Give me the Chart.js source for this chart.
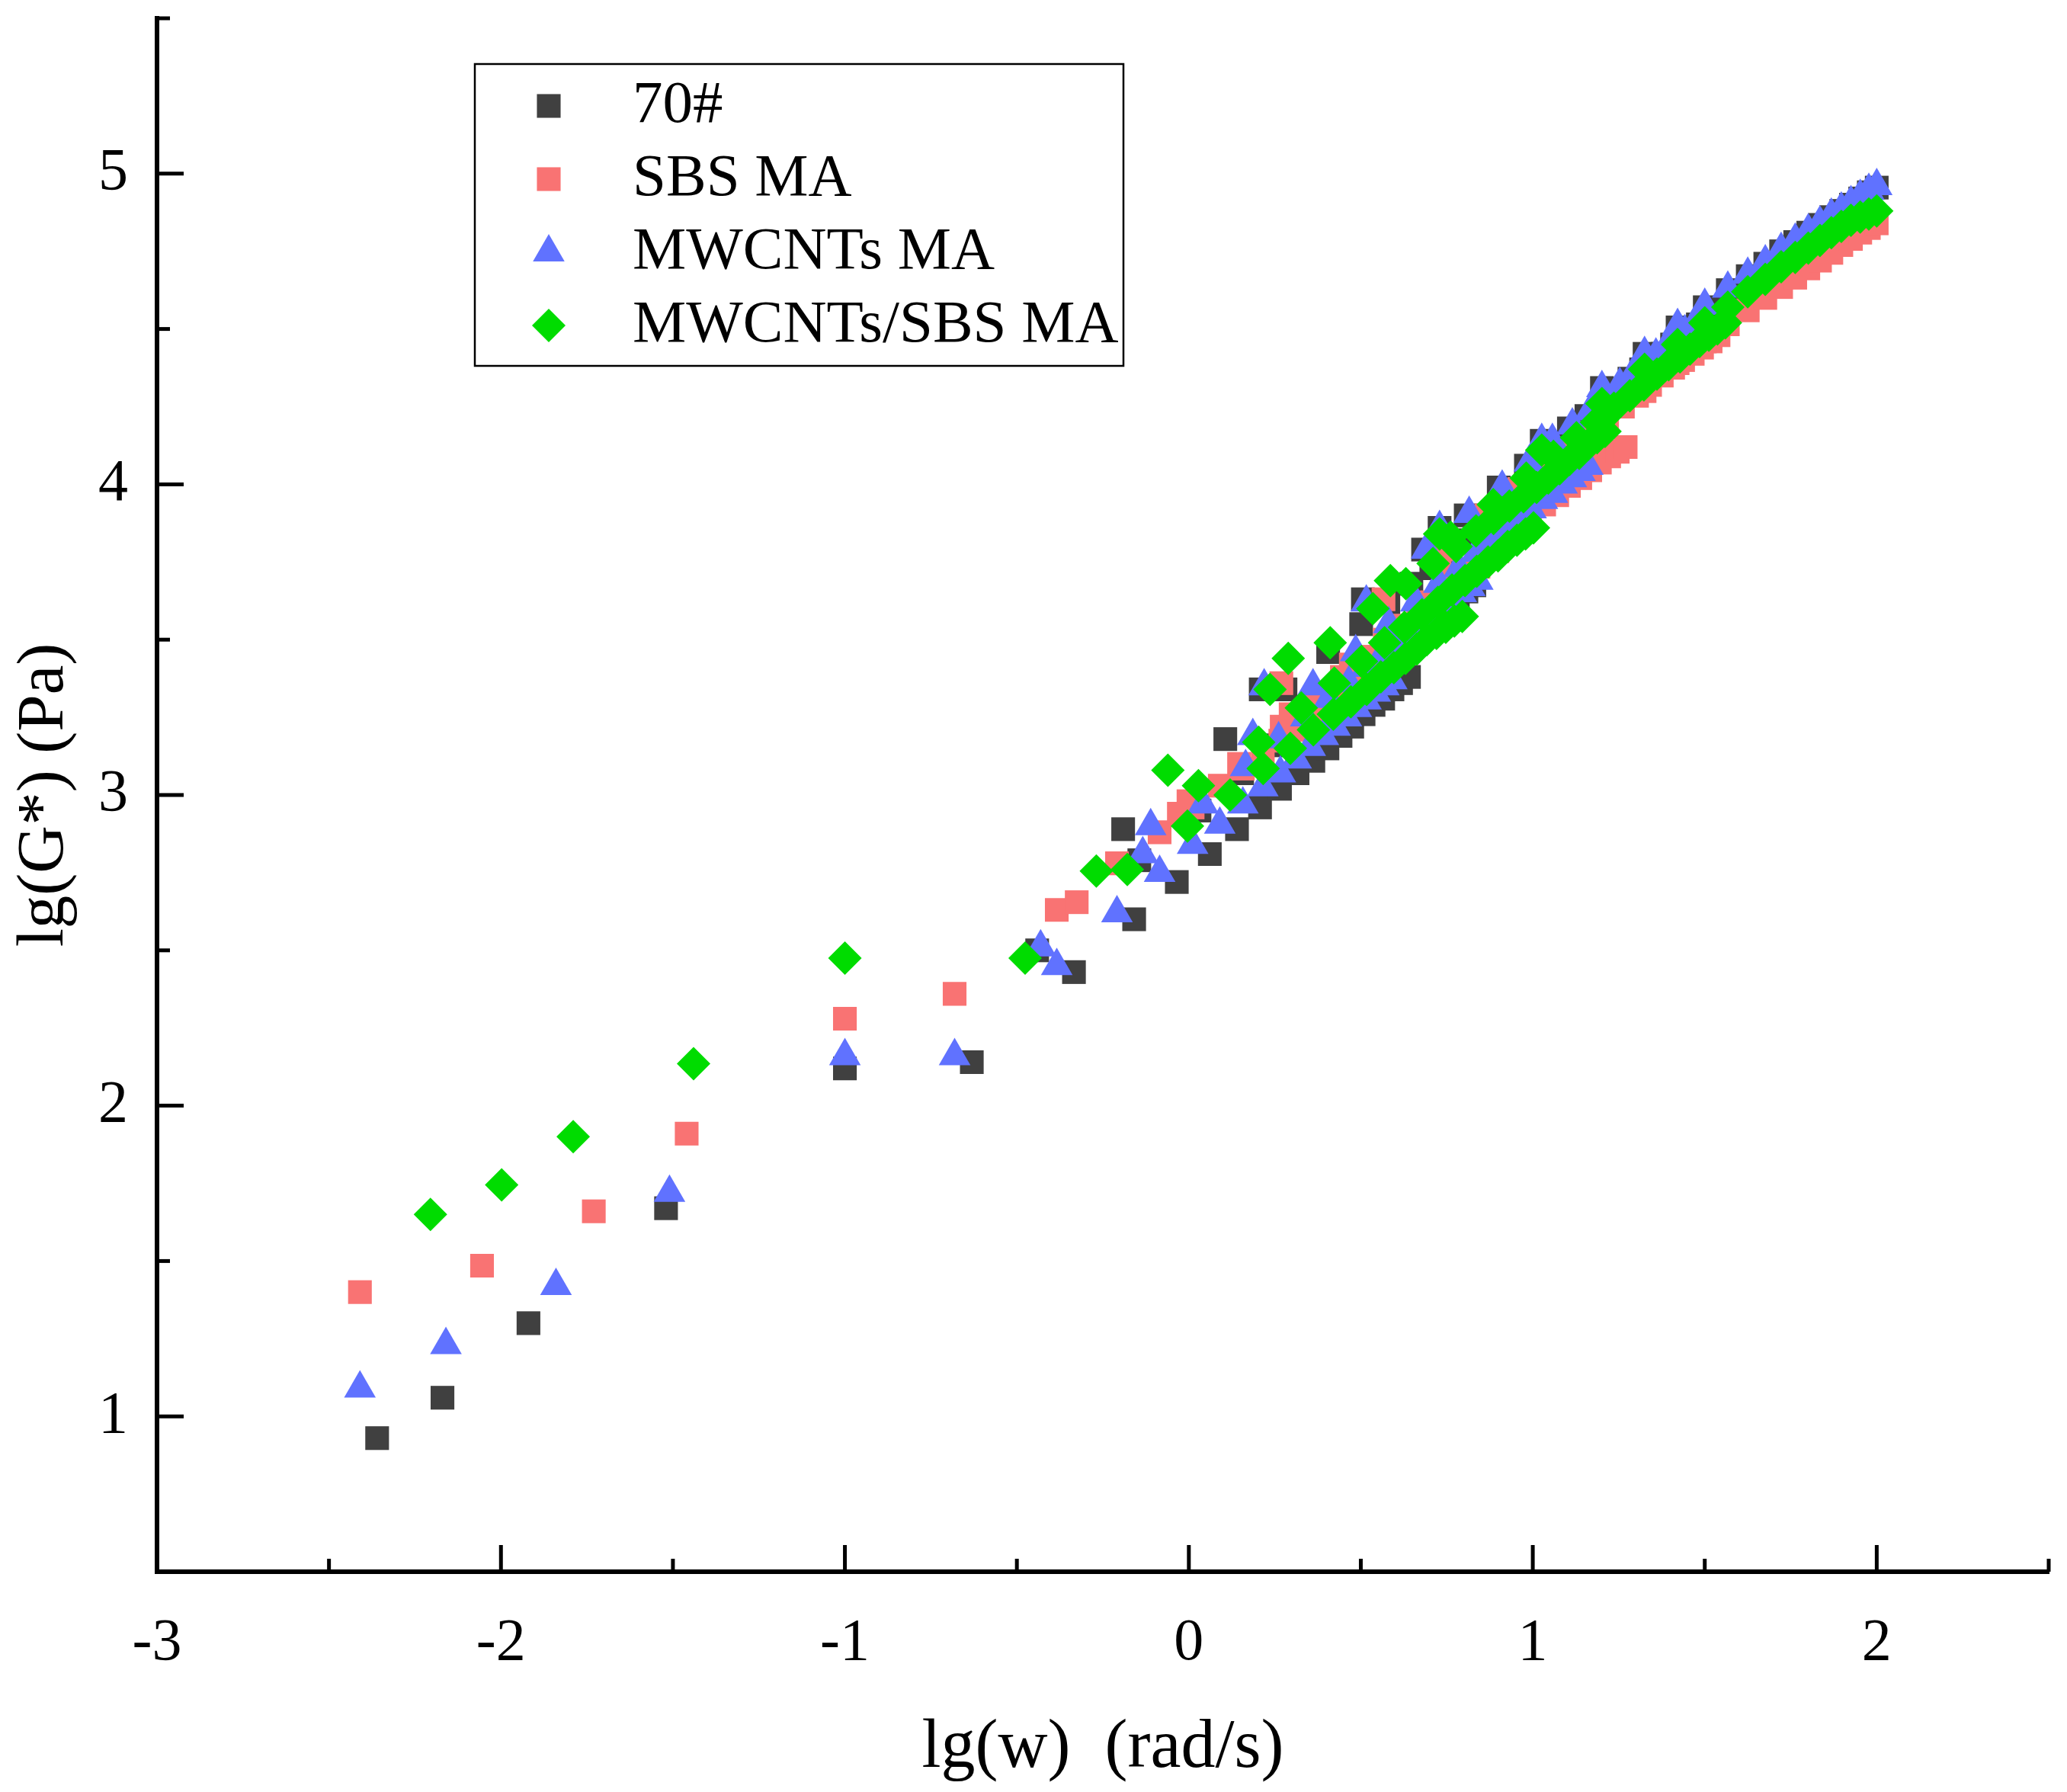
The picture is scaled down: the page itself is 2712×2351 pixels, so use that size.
<!DOCTYPE html>
<html>
<head>
<meta charset="utf-8">
<script src="https://cdn.jsdelivr.net/npm/chart.js@4.4.1/dist/chart.umd.min.js"></script>
<style>
  html, body { margin: 0; padding: 0; background: #fff; }
</style>
</head>
<body>
<canvas id="chart" width="2712" height="2351"></canvas>
<script>
// lg(w) of the 20 frequencies in one sweep (0.1 ... 100 rad/s)
const lgOmega = [-1, 0.729, 1.026, 1.201, 1.325, 1.421, 1.500, 1.567, 1.625, 1.676,
                 1.722, 1.763, 1.801, 1.835, 1.868, 1.897, 1.925, 1.952, 1.977, 2.000];

// shift (decades) of the five temperature sweeps of each binder
const shift70    = [-1.36, -1.17, -0.92, -0.52, 0];
const shiftSBS   = [-1.41, -1.055, -0.73, -0.46, 0];
const shiftMW    = [-1.41, -1.16, -0.84, -0.51, 0];
const shiftMWSBS = [-1.205, -0.998, -0.79, -0.44, 0];

// lg(G*), one row per sweep
const g70 = [
    [0.93, 2.14, 2.43, 2.60, 2.72, 2.81, 2.89, 2.96, 3.02, 3.07, 3.11, 3.15, 3.19, 3.22, 3.26, 3.29, 3.31, 3.34, 3.36, 3.38],
    [1.06, 2.50, 2.79, 2.95, 3.07, 3.16, 3.23, 3.29, 3.34, 3.39, 3.43, 3.465, 3.50, 3.53, 3.56, 3.585, 3.61, 3.635, 3.655, 3.675],
    [1.30, 2.89, 3.18, 3.34, 3.46, 3.55, 3.62, 3.68, 3.73, 3.78, 3.82, 3.85, 3.885, 3.915, 3.94, 3.97, 3.99, 4.01, 4.03, 4.05],
    [1.67, 3.34, 3.63, 3.79, 3.90, 3.99, 4.06, 4.12, 4.18, 4.22, 4.26, 4.30, 4.34, 4.37, 4.40, 4.42, 4.45, 4.475, 4.495, 4.515],
    [2.12, 3.86, 4.14, 4.31, 4.42, 4.505, 4.57, 4.625, 4.67, 4.71, 4.75, 4.78, 4.81, 4.835, 4.86, 4.88, 4.90, 4.92, 4.94, 4.955]
];
const gSBS = [
    [1.40, 2.36, 2.63, 2.78, 2.88, 2.96, 3.03, 3.085, 3.13, 3.175, 3.21, 3.245, 3.275, 3.30, 3.33, 3.355, 3.38, 3.40, 3.42, 3.44],
    [1.485, 2.655, 2.94, 3.10, 3.22, 3.31, 3.38, 3.445, 3.50, 3.545, 3.585, 3.62, 3.65, 3.68, 3.71, 3.735, 3.76, 3.785, 3.81, 3.83],
    [1.66, 2.98, 3.26, 3.42, 3.53, 3.62, 3.69, 3.75, 3.81, 3.855, 3.895, 3.935, 3.965, 3.995, 4.02, 4.045, 4.07, 4.09, 4.105, 4.12],
    [1.91, 3.36, 3.63, 3.79, 3.90, 3.985, 4.055, 4.11, 4.165, 4.21, 4.25, 4.285, 4.32, 4.35, 4.375, 4.40, 4.42, 4.44, 4.46, 4.48],
    [2.28, 3.76, 4.03, 4.19, 4.30, 4.39, 4.46, 4.515, 4.56, 4.60, 4.635, 4.665, 4.695, 4.72, 4.745, 4.77, 4.79, 4.81, 4.825, 4.84]
];
const gMW = [
    [1.09, 2.16, 2.45, 2.62, 2.75, 2.84, 2.905, 2.97, 3.025, 3.07, 3.115, 3.155, 3.19, 3.22, 3.25, 3.28, 3.305, 3.33, 3.35, 3.37],
    [1.23, 2.51, 2.81, 2.97, 3.09, 3.18, 3.25, 3.31, 3.36, 3.41, 3.45, 3.485, 3.52, 3.55, 3.58, 3.60, 3.63, 3.65, 3.67, 3.69],
    [1.42, 2.90, 3.19, 3.35, 3.46, 3.55, 3.62, 3.68, 3.73, 3.78, 3.82, 3.855, 3.89, 3.92, 3.95, 3.97, 4.00, 4.02, 4.04, 4.06],
    [1.72, 3.35, 3.62, 3.79, 3.905, 3.99, 4.07, 4.14, 4.19, 4.235, 4.28, 4.32, 4.355, 4.385, 4.415, 4.44, 4.465, 4.49, 4.51, 4.53],
    [2.16, 3.86, 4.14, 4.31, 4.42, 4.51, 4.575, 4.63, 4.675, 4.715, 4.755, 4.785, 4.815, 4.84, 4.865, 4.885, 4.905, 4.925, 4.945, 4.96]
];
const gMWSBS = [
    [1.65, 2.475, 2.76, 2.90, 3.00, 3.085, 3.15, 3.21, 3.26, 3.30, 3.34, 3.38, 3.41, 3.44, 3.47, 3.50, 3.52, 3.54, 3.56, 3.575],
    [1.745, 2.755, 3.03, 3.17, 3.28, 3.36, 3.43, 3.49, 3.54, 3.58, 3.62, 3.66, 3.69, 3.72, 3.75, 3.77, 3.80, 3.82, 3.84, 3.86],
    [1.90, 3.08, 3.34, 3.49, 3.60, 3.68, 3.745, 3.80, 3.85, 3.89, 3.93, 3.96, 3.99, 4.02, 4.05, 4.08, 4.10, 4.13, 4.15, 4.17],
    [2.135, 3.44, 3.69, 3.83, 3.935, 4.02, 4.09, 4.15, 4.20, 4.245, 4.285, 4.32, 4.355, 4.385, 4.41, 4.435, 4.46, 4.48, 4.50, 4.52],
    [2.475, 3.84, 4.11, 4.26, 4.37, 4.45, 4.52, 4.57, 4.62, 4.66, 4.70, 4.73, 4.76, 4.785, 4.81, 4.83, 4.85, 4.86, 4.87, 4.88]
];

const seriesNames = ['70#', 'SBS MA', 'MWCNTs MA', 'MWCNTs/SBS MA'];
const xTicks = [-3, -2, -1, 0, 1, 2];
const xMinor = [-2.5, -1.5, -0.5, 0.5, 1.5, 2.5];
const yTicks = [1, 2, 3, 4, 5];
const yMinor = [1.5, 2.5, 3.5, 4.5, 5.5];

const FONT = "'Liberation Serif', 'Times New Roman', serif";

// shifted sweeps -> scatter points
function sweepPoints(shifts, sweeps) {
    const pts = [];
    sweeps.forEach((ys, i) => {
        ys.forEach((y, k) => pts.push({ x: lgOmega[k] + shifts[i], y: y }));
    });
    return pts;
}

function makeSet(label, pts, color, style, radius, order) {
    return {
        label: label,
        data: pts,
        pointStyle: style,
        pointRadius: radius,
        pointBackgroundColor: color,
        pointBorderColor: color,
        pointBorderWidth: 0,
        showLine: false,
        order: order
    };
}

// ticks on the inside of the two axes
const inwardTicks = {
    id: 'inwardTicks',
    afterDraw(chart) {
        const { ctx, chartArea: a, scales: { x, y } } = chart;
        ctx.save();
        ctx.strokeStyle = '#000';
        ctx.lineWidth = 5;
        const tick = (x1, y1, x2, y2) => {
            ctx.beginPath();
            ctx.moveTo(x1, y1);
            ctx.lineTo(x2, y2);
            ctx.stroke();
        };
        xTicks.forEach(v => { const p = x.getPixelForValue(v); tick(p, a.bottom, p, a.bottom - 35); });
        xMinor.forEach(v => { const p = x.getPixelForValue(v); tick(p, a.bottom, p, a.bottom - 17); });
        yTicks.forEach(v => { const p = y.getPixelForValue(v); tick(a.left, p, a.left + 35, p); });
        yMinor.forEach(v => { const p = y.getPixelForValue(v); tick(a.left, p, a.left + 17, p); });
        ctx.restore();
    }
};

// framed legend in the upper left of the plot
const boxLegend = {
    id: 'boxLegend',
    afterDraw(chart) {
        const ctx = chart.ctx;
        ctx.save();
        ctx.strokeStyle = '#000';
        ctx.lineWidth = 2.5;
        ctx.strokeRect(623, 84, 851, 396);
        ctx.font = '79px ' + FONT;
        ctx.textBaseline = 'middle';
        ctx.textAlign = 'left';
        chart.data.datasets.forEach((ds, i) => {
            const cy = 139 + i * 96;
            ctx.fillStyle = ds.pointBackgroundColor;
            Chart.helpers.drawPoint(ctx, {
                pointStyle: ds.pointStyle, radius: ds.pointRadius, rotation: 0, borderWidth: 0
            }, 720, cy);
            ctx.fillStyle = '#000';
            ctx.fillText(ds.label, 830, cy);
        });
        ctx.restore();
    }
};

new Chart(document.getElementById('chart'), {
    type: 'scatter',
    data: {
        datasets: [
            makeSet(seriesNames[0], sweepPoints(shift70, g70), '#404040', 'rect', 22, 4),
            makeSet(seriesNames[1], sweepPoints(shiftSBS, gSBS), '#F97373', 'rect', 22, 3),
            makeSet(seriesNames[2], sweepPoints(shiftMW, gMW), '#6072FF', 'triangle', 24, 2),
            makeSet(seriesNames[3], sweepPoints(shiftMWSBS, gMWSBS), '#00DC00', 'rectRot', 22, 1)
        ]
    },
    options: {
        responsive: false,
        devicePixelRatio: 1,
        animation: false,
        events: [],
        layout: { padding: { left: 0, right: 18, top: 24, bottom: 0 } },
        plugins: {
            legend: { display: false },
            tooltip: { enabled: false }
        },
        scales: {
            x: {
                type: 'linear',
                min: -3,
                max: 2.5,
                afterBuildTicks: s => { s.ticks = xTicks.map(v => ({ value: v })); },
                afterFit: s => {
                    s.height = 289;
                    s.paddingLeft = 0;
                    s.paddingRight = 0;
                },
                grid: { display: true, drawOnChartArea: false, drawTicks: false },
                border: { display: true, width: 6, color: '#000' },
                ticks: {
                    color: '#000',
                    padding: 48,
                    maxRotation: 0,
                    font: { family: FONT, size: 78 }
                },
                title: {
                    display: true,
                    text: 'lg(w)  (rad/s)',
                    color: '#000',
                    padding: { top: 0, bottom: 3 },
                    font: { family: FONT, size: 90 }
                }
            },
            y: {
                type: 'linear',
                min: 0.5,
                max: 5.5,
                afterBuildTicks: s => { s.ticks = yTicks.map(v => ({ value: v })); },
                afterFit: s => {
                    s.width = 206;
                    s.paddingTop = 0;
                    s.paddingBottom = 0;
                },
                grid: { display: true, drawOnChartArea: false, drawTicks: false },
                border: { display: true, width: 6, color: '#000' },
                ticks: {
                    color: '#000',
                    padding: 38,
                    font: { family: FONT, size: 78 }
                },
                title: {
                    display: true,
                    text: 'lg(G*) (Pa)',
                    color: '#000',
                    padding: { top: 7, bottom: 0 },
                    font: { family: FONT, size: 87 }
                }
            }
        }
    },
    plugins: [inwardTicks, boxLegend]
});
</script>
</body>
</html>
